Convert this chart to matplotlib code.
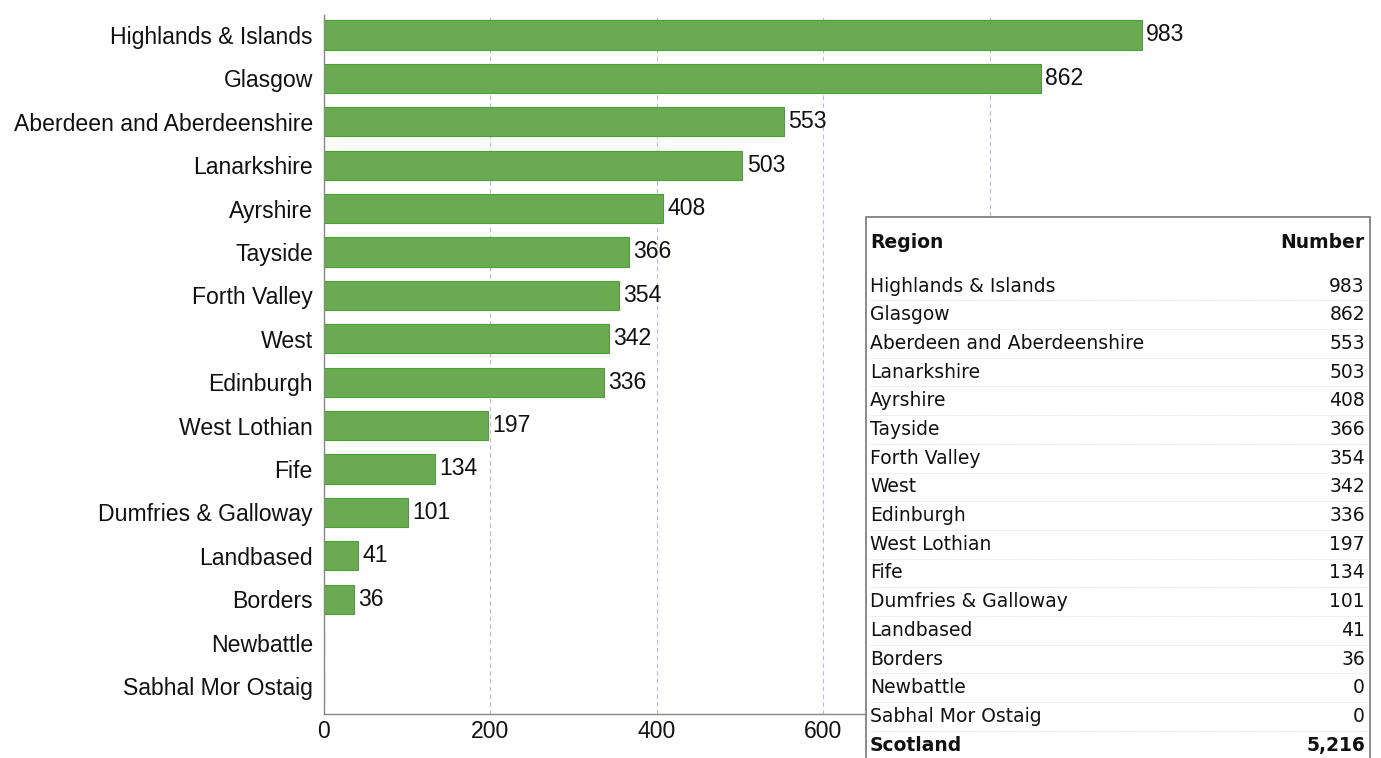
import matplotlib.pyplot as plt
from matplotlib.patches import Rectangle
from matplotlib.lines import Line2D

regions = ["Highlands & Islands", "Glasgow", "Aberdeen and Aberdeenshire", "Lanarkshire",
           "Ayrshire", "Tayside", "Forth Valley", "West", "Edinburgh", "West Lothian",
           "Fife", "Dumfries & Galloway", "Landbased", "Borders", "Newbattle",
           "Sabhal Mor Ostaig"]
numbers = [983, 862, 553, 503, 408, 366, 354, 342, 336, 197, 134, 101, 41, 36, 0, 0]
xticks = [0, 200, 400, 600, 800, 1000]
# 800 and 1000 sit under the table in the original
xticklabels = ["0", "200", "400", "600", "", ""]

W, H = 1381, 758
fig = plt.figure(figsize=(W / 100, H / 100), dpi=100)
ax = fig.add_axes([324 / W, 1 - 714 / H, (1156 - 324) / W, (714 - 15) / H])

ypos = list(range(len(regions)))
ax.barh(ypos, numbers, height=0.67, color='#6aab52', edgecolor='#4aa035', linewidth=0.8, zorder=2)
for y, v in zip(ypos, numbers):
    if v > 0:
        ax.annotate(str(v), (v, y), xytext=(3, 0), textcoords='offset points',
                    va='center', ha='left', fontsize=16.6, family='Liberation Sans', color='#111111')

ax.set_xlim(0, 1000)
ax.set_ylim(15.645, -0.46)
ax.set_yticks(ypos)
ax.set_yticklabels(regions, family='Liberation Sans', fontsize=16.6, color='#111111')
ax.set_xticks(xticks)
ax.set_xticklabels(xticklabels, family='Liberation Sans', fontsize=16.6, color='#111111')
ax.tick_params(axis='y', length=0, pad=8)
ax.tick_params(axis='x', length=0, pad=4)
ax.grid(axis='x', color='#b8bcd8', linestyle=(0, (4, 3)), linewidth=0.8, zorder=0)
for s in ['top', 'right']:
    ax.spines[s].set_visible(False)
for s in ['left', 'bottom']:
    ax.spines[s].set_color('#888888')
    ax.spines[s].set_linewidth(1.0)


# table overlay, in pixel coords
def fx(x):
    return x / W


def fy(y):
    return 1 - y / H


tab = Rectangle((fx(866), fy(800)), fx(1370) - fx(866), fy(217) - fy(800), transform=fig.transFigure,
                facecolor='white', edgecolor='#777777', linewidth=1.2, zorder=5, clip_on=False)
fig.add_artist(tab)
tfont = dict(family='DejaVu Sans', fontsize=13.5, color='#111111', zorder=6, va='center')
fig.text(fx(870), fy(243), "Region", fontweight='bold', ha='left', **tfont)
fig.text(fx(1365), fy(243), "Number", fontweight='bold', ha='right', **tfont)
row_h = 28.7
for i, (r, v) in enumerate(zip(regions, numbers)):
    yy = 286 + row_h * i
    fig.text(fx(870), fy(yy), r, ha='left', **tfont)
    fig.text(fx(1365), fy(yy), f"{v:,}", ha='right', **tfont)
    fig.add_artist(Line2D([fx(868), fx(1368)], [fy(yy + row_h / 2)] * 2, transform=fig.transFigure,
                          color='#dddddd', linewidth=0.6, linestyle=(0, (1, 1)), zorder=5))
yy = 286 + row_h * len(regions)
fig.text(fx(870), fy(yy), "Scotland", fontweight='bold', ha='left', **tfont)
fig.text(fx(1365), fy(yy), f"{sum(numbers):,}", fontweight='bold', ha='right', **tfont)

fig.savefig('out.png', dpi=100)
